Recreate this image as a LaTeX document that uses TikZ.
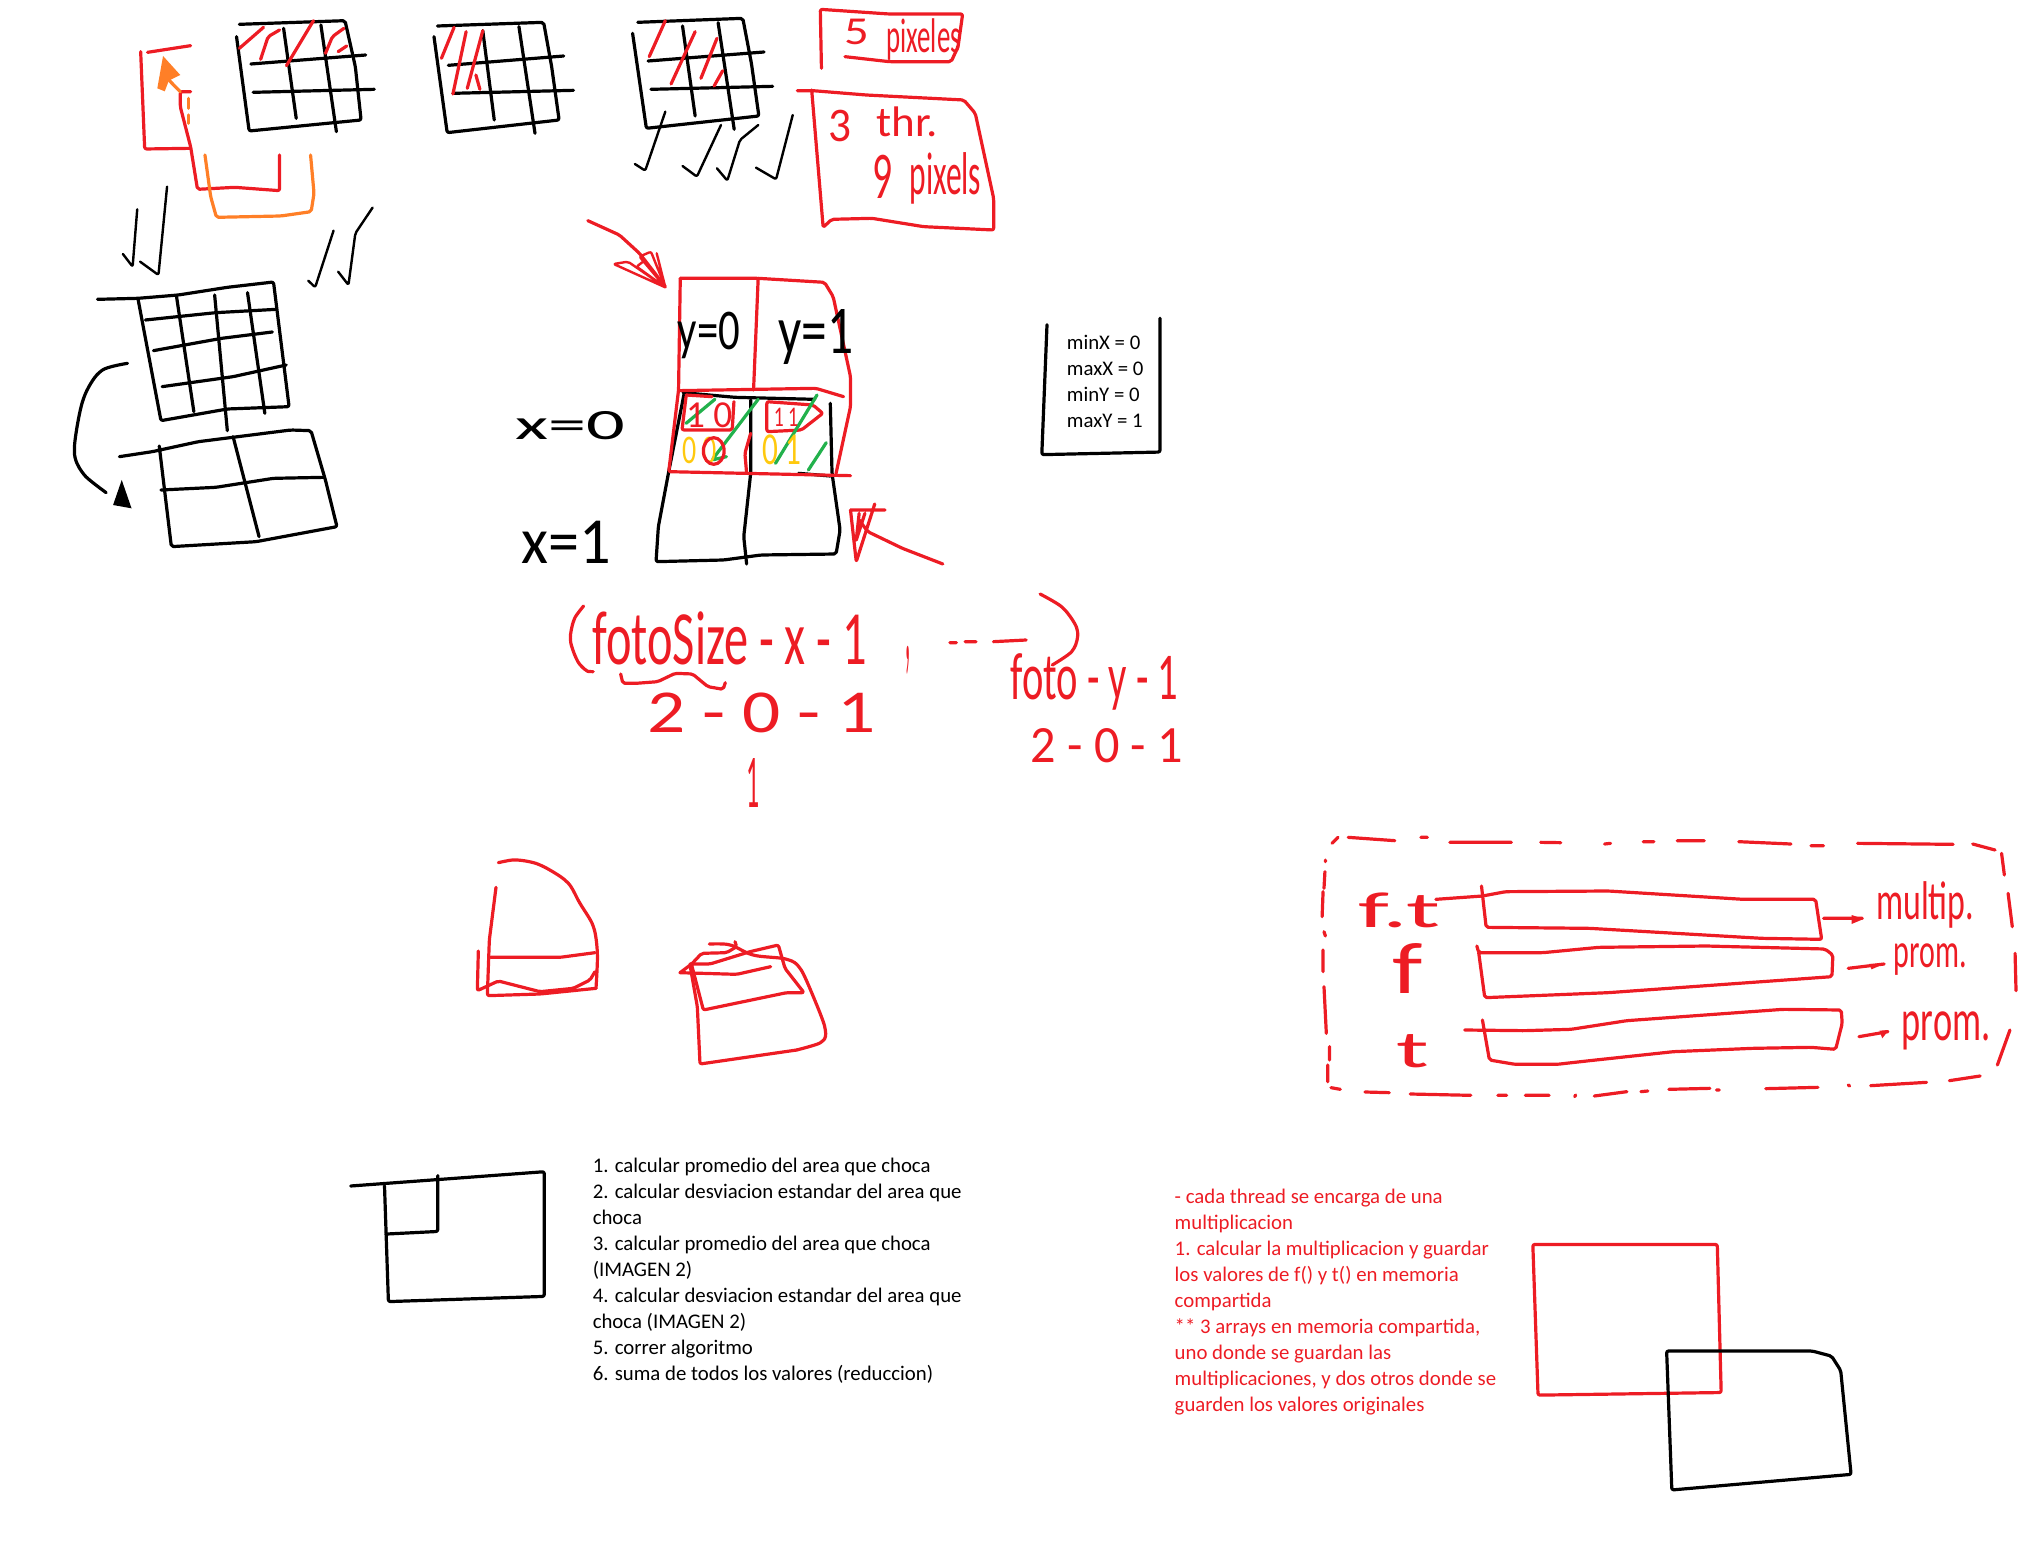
\documentclass[tikz,border=0pt]{standalone}
\usepackage{graphicx}
\usepackage{fontspec}
\setmainfont{Carlito}
\definecolor{SketchRed}{HTML}{ED1C24}
\definecolor{SketchOrange}{HTML}{FF7F27}
\definecolor{SketchGreen}{HTML}{22B14C}
\definecolor{SketchYellow}{HTML}{FFC90E}
\newcommand{\handx}{574}
\newcommand{\handtext}[3]{\resizebox*{\dimexpr#1pt*\handx/2000\relax}{\dimexpr#2pt/6\relax}{#3}}
\tikzset{
  sketch ink/.style={draw=black,line width=1.6pt,line cap=round,line join=round,rounded corners=1pt},
  sketch red/.style={sketch ink,draw=SketchRed},
  sketch orange/.style={sketch ink,draw=SketchOrange},
  sketch green/.style={sketch ink,draw=SketchGreen},
  sketch yellow/.style={sketch ink,draw=SketchYellow},
  sketch hand/.style={inner sep=0pt,text=black},
  sketch hand red/.style={inner sep=0pt,text=SketchRed},
  sketch note/.style={inner sep=0pt,anchor=north west,align=left,font=\fontsize{10.4}{13}\selectfont}
}
\begin{document}
\begin{tikzpicture}[x=0.5pt,y=-0.5pt]
  \useasboundingbox (0,0) rectangle (2037,1556);
  % top row of grids
  \begin{scope}[shift={(120,0)},xscale=0.574,yscale=1/3]
    \draw[sketch red] (48,157) -- (123,137);
    \draw[sketch red] (123,445) -- (43,447) -- (36,155);
    \draw[sketch red] (123,275) -- (105,275) -- (105,320) -- (123,440) -- (135,568) -- (200,562) -- (278,572) -- (278,465);
    \draw[sketch orange] (148,465) -- (158,590) -- (168,652) -- (280,648) -- (333,635) -- (338,580) -- (332,465);
    \draw[sketch orange] (105,275) -- (85,240);
    \fill[SketchOrange] (75,168) -- (105,225) -- (85,242) -- (78,274) -- (65,265) -- cycle;
    \draw[sketch orange] (120,295) -- (120,325) (120,345) -- (120,370);

    \draw[sketch ink] (208,73) -- (392,62) -- (410,200) -- (420,360) -- (225,393) -- (203,110);
    \draw[sketch ink] (285,85) -- (307,355) (350,75) -- (377,395);
    \draw[sketch ink] (228,192) -- (428,165) (232,277) -- (443,268);
    \draw[sketch red] (250,82) -- (208,145) (278,90) -- (258,110) -- (245,178) (337,62) -- (290,197) (390,85) -- (370,110) -- (358,160) (395,138) -- (380,155);

    \draw[sketch ink] (553,78) -- (738,67) -- (752,200) -- (765,360) -- (570,398) -- (547,110);
    \draw[sketch ink] (632,92) -- (652,360) (695,80) -- (723,400);
    \draw[sketch ink] (572,196) -- (773,168) (580,280) -- (790,271);
    \draw[sketch red] (582,82) -- (560,175) (603,95) -- (580,282) (632,92) -- (605,265) (620,225) -- (627,268);

    \draw[sketch ink] (902,67) -- (1085,55) -- (1100,190) -- (1113,348) -- (917,385) -- (893,100);
    \draw[sketch ink] (980,78) -- (1002,348) (1042,68) -- (1070,388);
    \draw[sketch ink] (920,183) -- (1122,156) (925,268) -- (1137,259);
    \draw[sketch red] (950,62) -- (922,170) (1002,95) -- (960,252) (1040,115) -- (1012,235) (1050,212) -- (1035,258);

    \draw[sketch ink,line width=1.2pt] (950,335) -- (915,512) -- (897,492);
    \draw[sketch ink,line width=1.2pt] (1047,375) -- (1005,530) -- (980,498);
    \draw[sketch ink,line width=1.2pt] (1112,375) -- (1080,420) -- (1058,542) -- (1040,505);
    \draw[sketch ink,line width=1.2pt] (1172,345) -- (1143,538) -- (1108,503);
    \draw[sketch ink,line width=1.2pt] (30,628) -- (22,800) -- (5,762);
    \draw[sketch ink,line width=1.2pt] (82,560) -- (67,825) -- (35,785);
    \draw[sketch ink,line width=1.2pt] (372,692) -- (340,862) -- (328,842);
    \draw[sketch ink,line width=1.2pt] (440,623) -- (410,700) -- (398,855) -- (380,815);

    \draw[sketch red] (1222,205) -- (1220,28) -- (1340,42) -- (1468,42) -- (1460,140) -- (1448,185) -- (1340,185) -- (1263,170);
    \node[sketch hand red] (five) at (1283,97) {\handtext{43}{77}{5}};
    \node[sketch hand red] (pixeles) at (1400,120) {\handtext{130}{125}{pixeles}};

    \draw[sketch red] (1180,272) -- (1207,272) -- (1300,285) -- (1470,300) -- (1490,340) -- (1522,595) -- (1522,690) -- (1400,680) -- (1310,655) -- (1240,658) -- (1225,682) -- (1205,270);
    \node[sketch hand red] (three) at (1255,378) {\handtext{40}{95}{3}};
    \node[sketch hand red] (thr) at (1372,365) {\handtext{107}{90}{thr.}};
    \node[sketch hand red] (nine) at (1328,530) {\handtext{35}{130}{9}};
    \node[sketch hand red] (pixels) at (1438,535) {\handtext{125}{155}{pixels}};

    \draw[sketch red] (815,662) -- (870,705) -- (905,760) -- (950,860);
    \draw[sketch red,line width=1.2pt] (950,862) -- (860,792) -- (885,785) -- (950,862) -- (905,770) -- (925,755) -- (950,862) -- (935,760) (950,862) -- (900,800) -- (915,780);
  \end{scope}
  % grids on the left and the 2x2 grid
  \begin{scope}[shift={(60,260)},xscale=0.577,yscale=1/3]
    \renewcommand{\handx}{577}
    \draw[sketch ink] (65,118) -- (135,115) -- (205,105) -- (290,82) -- (370,66) -- (397,440) -- (290,447) -- (175,482) -- (135,115);
    \draw[sketch ink] (202,110) -- (232,455) (268,105) -- (290,512) (325,98) -- (355,460);
    \draw[sketch ink] (148,180) -- (270,158) -- (375,148) (162,272) -- (280,235) -- (368,216) (177,380) -- (300,350) -- (392,315);
    \draw[sketch ink] (103,590) -- (160,575) -- (240,545) -- (400,510) -- (435,512) -- (460,660) -- (480,800) -- (340,845) -- (193,860) -- (172,558);
    \draw[sketch ink] (300,530) -- (345,830) (175,690) -- (270,682) -- (370,655) -- (458,652);
    \draw[sketch ink] plot[smooth] coordinates {(117,310) (70,335) (40,420) (25,570) (40,640) (80,698)};
    \fill[black] (107,660) -- (124,745) -- (92,735) -- cycle;

    \draw[sketch ink] (1082,398) -- (1055,635) -- (1037,800) -- (1033,905) -- (1150,900) -- (1215,885) -- (1345,882) -- (1352,810) -- (1338,640) -- (1335,430);
    \draw[sketch ink] (1197,420) -- (1197,640) -- (1185,830) -- (1190,912);
    \draw[sketch ink] (1080,398) -- (1170,412) -- (1308,418) (1280,640) -- (1335,648);

    \draw[sketch red] (1075,55) -- (1210,55) -- (1325,67) -- (1340,110) -- (1370,350) -- (1370,440) -- (1345,640);
    \draw[sketch red] (1075,55) -- (1072,390) -- (1055,635) -- (1370,647);
    \draw[sketch red] (1210,55) -- (1202,390) (1197,520) -- (1187,580) -- (1190,640);
    \draw[sketch red] (1072,392) -- (1310,385) -- (1358,410);
    \draw[sketch red] (1085,405) -- (1130,410) (1085,410) -- (1078,510) -- (1165,510) -- (1168,425);
    \draw[sketch red] (1225,425) -- (1305,435) -- (1322,460) -- (1285,510) -- (1225,515) -- cycle;

    \draw[sketch green] (1135,418) -- (1085,490) (1210,418) -- (1130,600) -- (1155,590) (1312,405) -- (1240,610) (1328,548) -- (1297,630);
    \node[sketch hand red] (ten) at (1125,465) {\handtext{80}{75}{1 0}};
    \node[sketch hand red] (eleven) at (1258,473) {\handtext{42}{55}{1 1}};
    \node[sketch hand,text=SketchYellow] (zerozero) at (1108,572) {\handtext{60}{80}{0 0}};
    \node[sketch hand,text=SketchYellow] (zeroone) at (1251,570) {\handtext{67}{90}{0 1}};
    \draw[sketch red] (1133,573) ellipse [x radius=18,y radius=40];

    \node[sketch hand] (yzero) at (1125,225) {\handtext{108}{140}{y=0}};
    \node[sketch hand] (yone) at (1310,232) {\handtext{130}{165}{y=1}};
    \node[sketch hand] (xzero) at (885,497) {\handtext{190}{85}{x=0}};
    \node[sketch hand] (xone) at (878,848) {\handtext{155}{127}{x=1}};

    \draw[sketch red] (1530,912) -- (1460,865) -- (1400,815) -- (1385,780);
    \draw[sketch red] (1370,750) -- (1430,750) (1370,750) -- (1380,905) -- (1412,732) (1385,760) -- (1380,840) (1395,760) -- (1380,840);
  \end{scope}
  % formula
  \begin{scope}[shift={(540,570)},xscale=0.436,yscale=1/3]
    \renewcommand{\handx}{436}
    \draw[sketch red] plot[smooth] coordinates {(100,108) (78,150) (70,210) (85,270) (105,300) (122,305)};
    \node[sketch hand red] (formulax) at (435,205) {\handtext{630}{160}{fotoSize - x - 1}};
    \draw[sketch red] (185,312) -- (190,340) -- (220,340) -- (270,335) -- (310,310) -- (350,312) -- (385,350) -- (420,358) -- (425,338);
    \node[sketch hand red] (valuesx) at (508,430) {\handtext{525}{120}{2 - 0 - 1}};
    \node[sketch hand red] (resultx) at (488,638) {\handtext{30}{147}{1}};
    \node[sketch hand red] (comma) at (845,270) {\handtext{12}{85}{,}};
    \draw[sketch red] (940,218) -- (955,218) (975,215) -- (1000,215) (1040,215) -- (1115,210);
    \draw[sketch red] plot[smooth] coordinates {(1147,72) (1200,115) (1232,180) (1222,240) (1175,285)};
    \node[sketch hand red] (formulay) at (1272,335) {\handtext{385}{170}{foto - y - 1}};
    \node[sketch hand red] (valuesy) at (1300,527) {\handtext{350}{103}{2 - 0 - 1}};
  \end{scope}
  % red shapes in the middle
  \begin{scope}[shift={(460,840)},scale=1/3]
    \draw[sketch red] plot[smooth] coordinates {(115,68) (170,60) (240,75) (320,125) (360,190) (400,260) (412,340) (408,445)};
    \draw[sketch red] (408,445) -- (240,462) -- (82,467) -- (88,300) -- (108,142);
    \draw[sketch red] (92,352) -- (300,352) -- (405,338);
    \draw[sketch red] (55,333) -- (52,452) -- (115,423) -- (240,455) -- (340,445) -- (390,420) -- (405,395);
    \draw[sketch red] plot[smooth] coordinates {(748,312) (810,315) (880,345) (980,358) (1020,385) (1060,470) (1095,565) (1085,605) (1010,630)};
    \draw[sketch red] (1010,630) -- (720,672) -- (712,500) -- (690,375);
    \draw[sketch red] (660,398) -- (695,372) -- (725,340) -- (800,338) -- (830,320) -- (825,305);
    \draw[sketch red] (690,372) -- (750,372) -- (870,335) -- (955,315) -- (975,385) -- (1032,458) -- (980,458) -- (730,510) -- (695,375);
    \draw[sketch red] (660,398) -- (830,403) -- (932,380);
  \end{scope}
  % dashed frame with the three arrays
  \begin{scope}[shift={(1310,820)},xscale=0.466,yscale=1/3]
    \renewcommand{\handx}{466}
    \draw[sketch red] (47,70) -- (60,52) (82,52) -- (182,62) (238,52) -- (252,52) (300,67) -- (432,67) (495,67) -- (538,68) (632,72) -- (645,70) (715,65) -- (738,65) (788,62) -- (846,62) (920,65) -- (1032,72) (1075,77) -- (1102,77) (1175,70) -- (1380,73) (1422,72) -- (1470,90);
    \draw[sketch red] (1484,100) -- (1490,165) (1498,220) -- (1507,320) (1513,400) -- (1515,512) (1502,630) -- (1475,735);
    \draw[sketch red] (1438,768) -- (1372,782) (1323,787) -- (1203,797) (1155,795) -- (1158,798) (1090,802) -- (978,806) (878,810) -- (872,810) (858,805) -- (770,808) (725,813) -- (710,815) (680,815) -- (610,828) (570,825) -- (568,830) (513,826) -- (462,826) (422,826) -- (403,826) (345,826) -- (215,822) (170,818) -- (118,816) (65,808) -- (45,803);
    \draw[sketch red] (33,120) -- (33,125) (32,155) -- (30,205) (28,215) -- (26,290) (30,335) -- (33,348) (28,390) -- (28,455) (30,500) -- (35,640) (42,680) -- (42,720) (38,735) -- (38,785);

    \draw[sketch red] (270,238) -- (370,228) -- (420,215) -- (640,213) -- (930,238) -- (1085,238) -- (1098,358) -- (970,355) -- (600,325) -- (378,322) -- (368,198);
    \draw[sketch red] (358,378) -- (362,398) -- (500,398) -- (620,382) -- (850,378) -- (1105,387) -- (1122,405) -- (1120,470) -- (920,490) -- (640,518) -- (375,533) -- (362,398);
    \draw[sketch red] (332,630) -- (460,632) -- (560,628) -- (680,602) -- (1015,568) -- (1140,570) -- (1142,610) -- (1128,688) -- (1075,682) -- (950,685) -- (780,695) -- (600,722) -- (530,733) -- (440,733) -- (385,720) -- (370,600);

    \draw[sketch red] (1102,295) -- (1185,295) (1155,445) -- (1232,432) (1178,650) -- (1240,635);
    \fill[SketchRed] (1162,285) -- (1188,297) -- (1162,312) -- cycle;
    \fill[SketchRed] (1200,432) -- (1234,430) -- (1205,448) -- cycle;
    \fill[SketchRed] (1222,632) -- (1242,630) -- (1228,655) -- cycle;

    \node[sketch hand red] (ft) at (192,272) {\handtext{175}{105}{f.t}};
    \node[sketch hand red] (ff) at (210,445) {\handtext{65}{150}{f}};
    \node[sketch hand red] (tt) at (220,695) {\handtext{70}{100}{t}};
    \node[sketch hand red] (multip) at (1320,255) {\handtext{210}{140}{multip.}};
    \node[sketch hand red] (promf) at (1331,418) {\handtext{157}{95}{prom.}};
    \node[sketch hand red] (promt) at (1365,632) {\handtext{190}{115}{prom.}};
  \end{scope}
  % squares and typed notes
  \begin{scope}[scale=1.299]
    \draw[sketch ink] (806,250) -- (802,350) -- (893,348) -- (893,245);
    \node[sketch note] (limits) at (821,258) {minX = 0\\maxX = 0\\minY = 0\\maxY = 1};

    \draw[sketch ink] (270,913) -- (419,902) -- (419,998) -- (299,1002) -- (296,913);
    \draw[sketch ink] (337,905) -- (337,948) -- (297,950);
    \node[sketch note] (steps) at (456,891) {1. calcular promedio del area que choca\\2. calcular desviacion estandar del area que\\choca\\3. calcular promedio del area que choca\\(IMAGEN 2)\\4. calcular desviacion estandar del area que\\choca (IMAGEN 2)\\5. correr algoritmo\\6. suma de todos los valores (reduccion)};

    \node[sketch note,text=SketchRed] (threads) at (904,915) {- cada thread se encarga de una\\multiplicacion\\1. calcular la multiplicacion y guardar\\los valores de f() y t() en memoria\\compartida\\** 3 arrays en memoria compartida,\\uno donde se guardan las\\multiplicaciones, y dos otros donde se\\guarden los valores originales};

    \draw[sketch red] (1180,958) -- (1322,958) -- (1325,1072) -- (1184,1074) -- cycle;
    \draw[sketch ink] (1283,1040) -- (1395,1040) -- (1410,1044) -- (1417,1055) -- (1425,1135) -- (1287,1147) -- cycle;
  \end{scope}
\end{tikzpicture}
\end{document}
